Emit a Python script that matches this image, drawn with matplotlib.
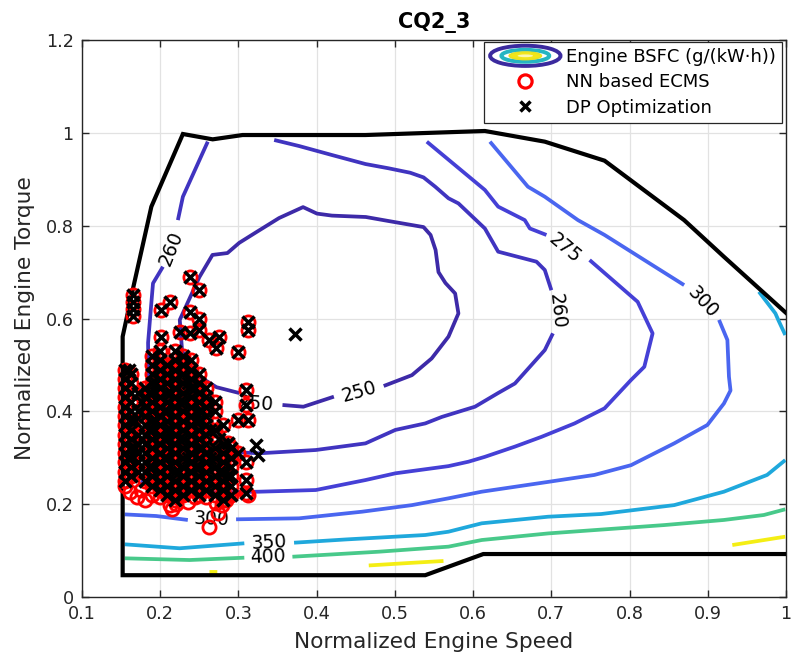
import numpy as np
import matplotlib
matplotlib.use("Agg")
import matplotlib.pyplot as plt
from matplotlib.lines import Line2D
from matplotlib.patches import Ellipse
from matplotlib.legend_handler import HandlerBase

nan = np.nan

# ---------------- data ----------------
title = "CQ2_3"
xlabel = "Normalized Engine Speed"
ylabel = "Normalized Engine Torque"
xticks = [0.1, 0.2, 0.3, 0.4, 0.5, 0.6, 0.7, 0.8, 0.9, 1.0]
xticklabels = ["0.1", "0.2", "0.3", "0.4", "0.5", "0.6", "0.7", "0.8", "0.9", "1"]
yticks = [0, 0.2, 0.4, 0.6, 0.8, 1.0, 1.2]
yticklabels = ["0", "0.2", "0.4", "0.6", "0.8", "1", "1.2"]
legend_labels = ["Engine BSFC (g/(kW\u00b7h))", "NN based ECMS", "DP Optimization"]

# engine operating boundary
bound_x = [1.0, 0.613, 0.5388, 0.152, 0.152, 0.157, 0.1653, 0.1887, 0.229, 0.2671,
           0.3053, 0.4624, 0.615, 0.6916, 0.768, 0.8697, 0.9206, 1.0]
bound_y = [0.0926, 0.0926, 0.047, 0.047, 0.561, 0.60, 0.665, 0.841, 0.9975, 0.986,
           0.9953, 0.9953, 1.004, 0.981, 0.940, 0.812, 0.733, 0.612]

# BSFC contour lines (NaN = label gap)
c250_x = [0.301, 0.272, 0.245, 0.228, 0.225, 0.250, 0.2668, 0.2859, 0.301, 0.3228, 0.352,
          0.3826, 0.4004, 0.4195, 0.4628, 0.492, 0.5366, 0.5456, 0.552, 0.5557, 0.5646,
          0.577, 0.5812, 0.5685, 0.547, 0.5218, 0.4857, nan, 0.422, 0.383, 0.3563]
c250_y = [0.4395, 0.452, 0.48, 0.53, 0.597, 0.689, 0.737, 0.741, 0.763, 0.786, 0.8165,
          0.840, 0.826, 0.8217, 0.8187, 0.810, 0.797, 0.780, 0.7476, 0.700, 0.6765,
          0.654, 0.611, 0.561, 0.514, 0.478, 0.4546, nan, 0.4316, 0.410, 0.4137]

c260_x = [0.2608, 0.229, 0.2226, nan, 0.2035, 0.1908, 0.188, 0.1845, 0.185, 0.195, 0.22,
          0.26, 0.3266, 0.3988, 0.4624, 0.5006, 0.5388, 0.560, 0.6024, 0.632, 0.6534,
          0.6916, 0.702, nan, 0.700, 0.6916, 0.681, 0.632, 0.615, 0.5812, 0.5685, 0.5515,
          0.5366, 0.5197, 0.492, 0.4624, 0.42, 0.3775, 0.3457]
c260_y = [0.981, 0.8624, 0.812, nan, 0.7116, 0.6759, 0.62, 0.548, 0.45, 0.37, 0.33,
          0.315, 0.3096, 0.3167, 0.331, 0.36, 0.374, 0.388, 0.410, 0.4395, 0.460,
          0.532, 0.568, nan, 0.661, 0.7045, 0.7224, 0.744, 0.794, 0.848, 0.859, 0.884,
          0.904, 0.914, 0.9236, 0.9328, 0.952, 0.9716, 0.9846]

c275_x = [0.5408, 0.615, 0.632, 0.666, 0.6725, 0.6937, nan, 0.7489, 0.8103, 0.8294, 0.8188,
          0.8018, 0.768, 0.7297, 0.6873, 0.6534, 0.615, 0.594, 0.5685, 0.5006, 0.4624,
          0.3988, 0.3266, 0.26, 0.20, 0.175]
c275_y = [0.981, 0.877, 0.841, 0.812, 0.794, 0.780, nan, 0.726, 0.636, 0.568, 0.496,
          0.4675, 0.4065, 0.374, 0.345, 0.324, 0.302, 0.2915, 0.282, 0.2665, 0.252,
          0.2305, 0.2269, 0.225, 0.235, 0.25]

c300_x = [0.6215, 0.670, 0.6916, 0.734, 0.768, 0.8188, 0.8697, nan, 0.9143, 0.925, 0.927,
          0.929, 0.9206, 0.8994, 0.857, 0.8018, 0.755, 0.6958, 0.611, 0.5685, 0.5218,
          0.458, 0.3775, 0.297, nan, 0.2353, 0.195, 0.1547]
c300_y = [0.981, 0.884, 0.8624, 0.812, 0.780, 0.726, 0.672, nan, 0.597, 0.5537, 0.4746,
          0.445, 0.417, 0.3706, 0.331, 0.284, 0.263, 0.248, 0.2269, 0.2126, 0.198,
          0.1838, 0.1695, 0.1674, nan, 0.166, 0.1745, 0.178]

c350_x = [0.1547, 0.2248, 0.3075, nan, 0.3711, 0.437, 0.5388, 0.5685, 0.611, 0.6958,
          0.7637, 0.857, 0.9206, 0.9758, 0.999]
c350_y = [0.1135, 0.105, 0.1157, nan, 0.117, 0.124, 0.1336, 0.1407, 0.1588, 0.173,
          0.1788, 0.198, 0.2269, 0.263, 0.295]
c350b_x = [0.9653, 0.9864, 0.990, 0.999]
c350b_y = [0.6577, 0.611, 0.597, 0.5645]

c400_x = [0.1547, 0.2375, 0.3075, nan, 0.369, 0.4794, 0.5685, 0.611, 0.6958, 0.8443,
          0.9206, 0.9716, 0.999]
c400_y = [0.0834, 0.0797, 0.0847, nan, 0.0868, 0.0976, 0.1085, 0.1228, 0.137, 0.155,
          0.166, 0.1767, 0.189]

c450_x = [0.263, 0.273, nan, 0.4666, 0.52, 0.5621, nan, 0.9313, 0.999]
c450_y = [0.054, 0.054, nan, 0.068, 0.0735, 0.0776, nan, 0.112, 0.130]

contour_lines = [
    (c250_x, c250_y, "#3d2aa8"),
    (c260_x, c260_y, "#4034c0"),
    (c275_x, c275_y, "#4540d6"),
    (c300_x, c300_y, "#4a66f0"),
    (c350_x, c350_y, "#1fa8dc"),
    (c350b_x, c350b_y, "#1fa8dc"),
    (c400_x, c400_y, "#48c98a"),
    (c450_x, c450_y, "#f4ee14"),
]

# contour labels: text, x, y, rotation
clabels = [
    ("260", 0.2142, 0.751, 68),
    ("250", 0.454, 0.442, 16),
    ("250", 0.322, 0.417, -4),
    ("260", 0.707, 0.615, -84),
    ("275", 0.717, 0.752, -40),
    ("300", 0.894, 0.635, -47),
    ("300", 0.2655, 0.167, -2),
    ("350", 0.339, 0.117, 3),
    ("400", 0.337, 0.086, 2),
]

# operating points present in both strategies
shared_x = [0.2375, 0.250, 0.212, 0.2015, 0.2375, 0.250, 0.3117, 0.3117, 0.2006, 0.2248,
            0.2375, 0.250, 0.263, 0.2757, 0.2715, 0.299, 0.165, 0.165, 0.165, 0.165,
            0.3096, 0.3096, 0.299, 0.3117, 0.2862, 0.3096, 0.3096, 0.3096, 0.300]
shared_y = [0.690, 0.661, 0.636, 0.618, 0.615, 0.600, 0.593, 0.575, 0.561, 0.5716,
            0.568, 0.575, 0.5537, 0.561, 0.536, 0.5285, 0.605, 0.620, 0.635, 0.650,
            0.446, 0.4136, 0.381, 0.381, 0.331, 0.252, 0.2234, 0.290, 0.310]
# dense cluster, column by column
cluster_cols = {
    0.155: [0.25, 0.27, 0.29, 0.31, 0.33, 0.35, 0.37, 0.39, 0.41, 0.43, 0.45, 0.47, 0.49],
    0.163: [0.26, 0.28, 0.30, 0.32, 0.34, 0.36, 0.38, 0.40, 0.42, 0.44, 0.46, 0.48],
    0.172: [0.27, 0.29, 0.31, 0.33, 0.35, 0.40, 0.44],
    0.181: [0.25, 0.27, 0.29, 0.31, 0.33, 0.35, 0.37, 0.39, 0.41, 0.43, 0.45],
    0.190: [0.24, 0.26, 0.28, 0.30, 0.32, 0.34, 0.36, 0.38, 0.40, 0.42, 0.44, 0.46, 0.48, 0.50, 0.52],
    0.200: [0.23, 0.25, 0.27, 0.29, 0.31, 0.33, 0.35, 0.37, 0.39, 0.41, 0.43, 0.45, 0.47, 0.49, 0.51, 0.53],
    0.209: [0.22, 0.24, 0.26, 0.28, 0.30, 0.32, 0.34, 0.36, 0.38, 0.40, 0.42, 0.44, 0.46, 0.48, 0.50],
    0.219: [0.21, 0.23, 0.25, 0.27, 0.29, 0.31, 0.33, 0.35, 0.37, 0.39, 0.41, 0.43, 0.45, 0.47, 0.49, 0.51, 0.53],
    0.229: [0.22, 0.24, 0.26, 0.28, 0.30, 0.32, 0.34, 0.36, 0.38, 0.40, 0.42, 0.44, 0.46, 0.48, 0.50, 0.52],
    0.240: [0.23, 0.25, 0.27, 0.29, 0.31, 0.33, 0.35, 0.37, 0.39, 0.41, 0.43, 0.45, 0.47, 0.49, 0.51],
    0.249: [0.22, 0.24, 0.26, 0.28, 0.30, 0.32, 0.34, 0.36, 0.38, 0.40, 0.42, 0.44, 0.46, 0.48],
    0.259: [0.23, 0.25, 0.27, 0.29, 0.31, 0.33, 0.35, 0.37, 0.39, 0.41, 0.43, 0.45],
    0.270: [0.22, 0.24, 0.26, 0.28, 0.30, 0.32, 0.36, 0.40, 0.42],
    0.280: [0.21, 0.23, 0.25, 0.27, 0.29, 0.31, 0.33, 0.37],
    0.290: [0.22, 0.24, 0.26, 0.28, 0.30, 0.32],
}
# extra DP points between columns (dense core)
dp_core_x = [0.159, 0.168, 0.177, 0.186, 0.195, 0.205, 0.214, 0.224, 0.235, 0.245, 0.254,
             0.264, 0.275, 0.285, 0.186, 0.205, 0.224, 0.245, 0.264, 0.177, 0.195, 0.214,
             0.235, 0.254, 0.275, 0.168, 0.186, 0.205, 0.224, 0.245]
dp_core_y = [0.30, 0.32, 0.34, 0.36, 0.38, 0.40, 0.36, 0.34, 0.30, 0.28, 0.32, 0.30, 0.27,
             0.26, 0.28, 0.30, 0.42, 0.38, 0.36, 0.42, 0.46, 0.44, 0.46, 0.40, 0.34, 0.38,
             0.44, 0.34, 0.27, 0.45]
# NN-ECMS only points (lower edge)
nn_only_x = [0.161, 0.176, 0.19, 0.1993, 0.212, 0.2248, 0.235, 0.245, 0.2587, 0.2715,
             0.284, 0.288, 0.3117, 0.2735, 0.263, 0.2795, 0.215, 0.22, 0.155, 0.17, 0.18]
nn_only_y = [0.227, 0.2305, 0.22, 0.216, 0.198, 0.2197, 0.205, 0.215, 0.216, 0.2018,
             0.209, 0.2234, 0.2197, 0.180, 0.1515, 0.198, 0.19, 0.20, 0.24, 0.215, 0.21]
# DP-only points
dp_only_x = [0.3725, 0.3224, 0.3245, 0.16]
dp_only_y = [0.5666, 0.327, 0.306, 0.49]

# ---------------- figure ----------------
fig = plt.figure(figsize=(7.92, 6.69), dpi=100)
ax = fig.add_axes([0.1035, 0.1076, 0.8890, 0.8326])

for xs, ys, col in contour_lines:
    ax.plot(xs, ys, color=col, lw=2.7, solid_capstyle="butt", zorder=3)

ax.plot(bound_x, bound_y, color="black", lw=3.0, zorder=4, solid_joinstyle="miter")

for txt, tx, ty, rot in clabels:
    ax.text(tx, ty, txt, fontsize=13.5, rotation=rot, rotation_mode="anchor",
            ha="center", va="center", color="black", zorder=5)

cl_x, cl_y = [], []
for cx, ylist in cluster_cols.items():
    for yv in ylist:
        cl_x.append(cx)
        cl_y.append(yv)

nn_x = shared_x + cl_x + nn_only_x
nn_y = shared_y + cl_y + nn_only_y
dp_x = shared_x + cl_x + dp_core_x + dp_only_x
dp_y = shared_y + cl_y + dp_core_y + dp_only_y

ax.plot(nn_x, nn_y, linestyle="none", marker="o", markersize=9.5, markerfacecolor="none",
        markeredgecolor="#ff0000", markeredgewidth=2.0, zorder=6)
ax.plot(dp_x, dp_y, linestyle="none", marker="x", markersize=8.8, color="black",
        markeredgewidth=2.5, zorder=7)

ax.set_xlim(0.1, 1.0)
ax.set_ylim(0, 1.2)
ax.set_xticks(xticks)
ax.set_xticklabels(xticklabels)
ax.set_yticks(yticks)
ax.set_yticklabels(yticklabels)
ax.tick_params(direction="in", top=True, right=True, length=5, width=1,
               labelsize=12.7, color="#262626", labelcolor="#262626", pad=6)
ax.grid(True, color="#e2e2e2", lw=0.9, zorder=0)
ax.set_axisbelow(True)
for sp in ax.spines.values():
    sp.set_color("#262626")
    sp.set_linewidth(1.0)

ax.set_xlabel(xlabel, fontsize=15.6, color="#262626", labelpad=6)
ax.set_ylabel(ylabel, fontsize=15.6, color="#262626", labelpad=8)
ax.set_title(title, fontsize=15, fontweight="bold", color="black", pad=9)


class ContourIcon:
    pass


class HandlerContour(HandlerBase):
    def create_artists(self, legend, orig_handle, xdescent, ydescent, width, height,
                       fontsize, trans):
        cx = width / 2 - xdescent
        cy = height / 2 - ydescent
        outer = Ellipse((cx, cy), width * 1.0, height * 1.6, fill=False,
                        edgecolor="#3b2a9e", lw=2.8, transform=trans)
        mid = Ellipse((cx, cy), width * 0.68, height * 0.95, fill=False,
                      edgecolor="#25b5c2", lw=2.8, transform=trans)
        inner = Ellipse((cx, cy), width * 0.46, height * 0.62, facecolor="#f2e61a",
                        edgecolor="#e8e020", lw=1.0, transform=trans)
        core = Ellipse((cx, cy), width * 0.22, height * 0.22, facecolor="#fbf7b0",
                       edgecolor="none", transform=trans)
        return [outer, mid, inner, core]


h_nn = Line2D([], [], linestyle="none", marker="o", markersize=9.5, markerfacecolor="none",
              markeredgecolor="#ff0000", markeredgewidth=2.3)
h_dp = Line2D([], [], linestyle="none", marker="x", markersize=7.5, color="black",
              markeredgewidth=2.5)
leg = ax.legend([ContourIcon(), h_nn, h_dp], legend_labels,
                handler_map={ContourIcon: HandlerContour()},
                loc="upper right", bbox_to_anchor=(0.997, 1.0), fontsize=13,
                frameon=True, fancybox=False, framealpha=1, edgecolor="#262626",
                handlelength=3.9, handletextpad=0.3, borderaxespad=0.1,
                borderpad=0.35, labelspacing=0.4)
leg.get_frame().set_linewidth(0.9)
leg.set_zorder(10)

fig.savefig("out.png", dpi=100)
